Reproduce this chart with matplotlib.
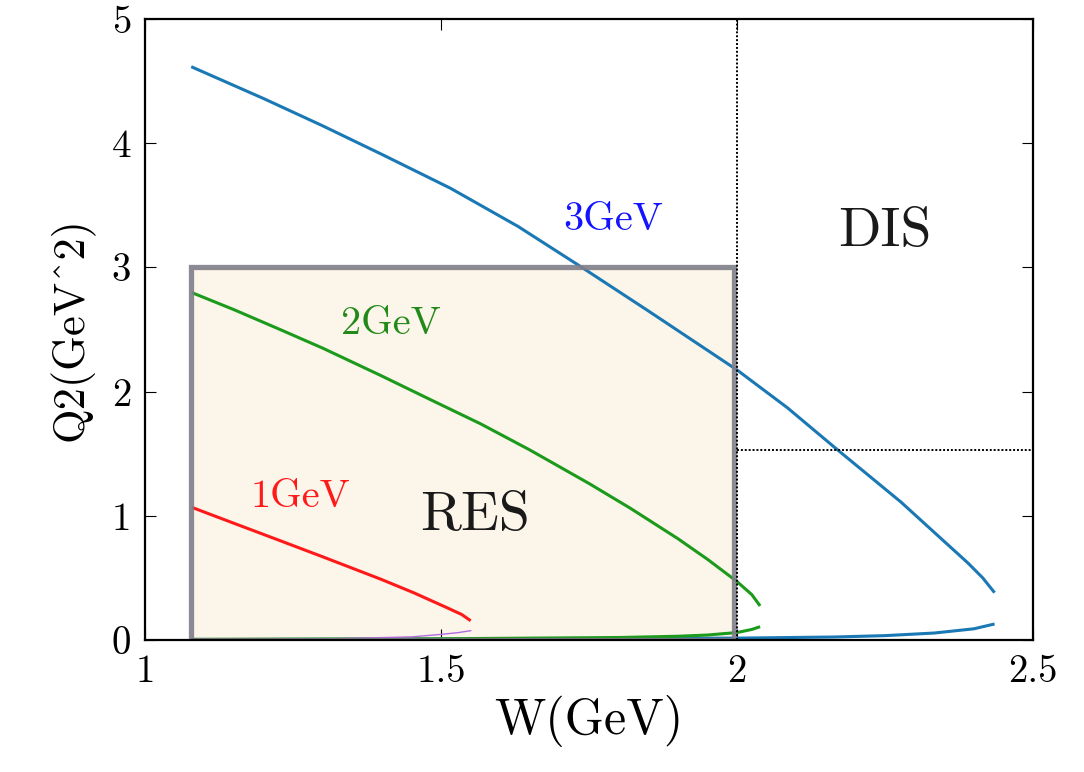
import matplotlib
matplotlib.use("Agg")
import matplotlib.pyplot as plt
from matplotlib.patches import Rectangle

plt.rcParams['font.family'] = ['cmr10', 'DejaVu Serif']
plt.rcParams['mathtext.fontset'] = 'cm'
plt.rcParams['axes.formatter.use_mathtext'] = True

# ---- data ----
W_3_up = [1.078, 1.2, 1.3, 1.4, 1.516, 1.63, 1.736, 1.85, 2.0, 2.085, 2.17, 2.277, 2.33, 2.39, 2.415, 2.435]
Q2_3_up = [4.616, 4.36, 4.14, 3.91, 3.637, 3.33, 3.006, 2.65, 2.174, 1.87, 1.53, 1.11, 0.88, 0.62, 0.50, 0.381]
W_3_lo = [1.079, 1.6, 2.0, 2.164, 2.25, 2.333, 2.40, 2.435]
Q2_3_lo = [0.003, 0.008, 0.015, 0.024, 0.035, 0.056, 0.09, 0.129]

W_2_up = [1.079, 1.15, 1.228, 1.3, 1.398, 1.48, 1.567, 1.65, 1.75, 1.82, 1.9, 1.95, 2.0, 2.025, 2.039]
Q2_2_up = [2.797, 2.66, 2.50, 2.35, 2.13, 1.94, 1.74, 1.53, 1.26, 1.06, 0.816, 0.65, 0.47, 0.365, 0.274]
W_2_lo = [1.079, 1.5, 1.8, 1.9, 1.95, 2.0, 2.025, 2.039]
Q2_2_lo = [0.005, 0.01, 0.02, 0.03, 0.04, 0.06, 0.085, 0.107]

W_1_up = [1.079, 1.15, 1.228, 1.3, 1.398, 1.454, 1.51, 1.535, 1.55]
Q2_1_up = [1.068, 0.94, 0.80, 0.67, 0.49, 0.38, 0.26, 0.205, 0.155]
W_1_lo = [1.079, 1.3, 1.45, 1.50, 1.53, 1.55]
Q2_1_lo = [0.0, 0.008, 0.025, 0.045, 0.06, 0.075]

res_W = [1.078, 1.995]
res_Q2 = [0.0, 3.0]
dis_W = 2.0
dis_Q2 = 1.53

x_ticks = [1, 1.5, 2, 2.5]
x_ticklabels = ["1", "1.5", "2", "2.5"]
y_ticks = [0, 1, 2, 3, 4, 5]
y_ticklabels = ["0", "1", "2", "3", "4", "5"]

fig = plt.figure(figsize=(10.84, 7.72), dpi=100)
ax = fig.add_axes([0.1338, 0.171, 0.8192, 0.8044])

# RES box fill
ax.add_patch(Rectangle((res_W[0], res_Q2[0]), res_W[1] - res_W[0], res_Q2[1] - res_Q2[0],
                       facecolor='#fcf5ea', edgecolor='none', zorder=1))

blue = '#1a78b4'
green = '#1c9a1c'
red = '#ff1a1a'
purple = '#b46ae0'
lw = 2.2
ax.plot(W_3_up, Q2_3_up, color=blue, lw=lw, zorder=3, solid_capstyle='butt')
ax.plot(W_3_lo, Q2_3_lo, color=blue, lw=lw, zorder=3, solid_capstyle='butt')
ax.plot(W_2_up, Q2_2_up, color=green, lw=lw, zorder=3, solid_capstyle='butt')
ax.plot(W_2_lo, Q2_2_lo, color=green, lw=lw, zorder=3, solid_capstyle='butt')
ax.plot(W_1_up, Q2_1_up, color=red, lw=lw, zorder=3, solid_capstyle='butt')
ax.plot(W_1_lo, Q2_1_lo, color=purple, lw=1.0, zorder=3)

# RES box edge
ax.add_patch(Rectangle((res_W[0], res_Q2[0]), res_W[1] - res_W[0], res_Q2[1] - res_Q2[0],
                       facecolor='none', edgecolor='#7f7e8a', lw=3.8, alpha=0.9, zorder=4,
                       joinstyle='miter'))

# DIS boundaries
ax.plot([dis_W, dis_W], [0, 5], color='black', ls=(0, (1, 1)), lw=1.4, zorder=5)
ax.plot([dis_W, 2.5], [dis_Q2, dis_Q2], color='black', ls=(0, (1, 1)), lw=1.4, zorder=5)

# labels
ax.text(1.79, 3.38, "3GeV", color='#1414ff', fontsize=29, ha='center', va='center')
ax.text(1.415, 2.54, "2GeV", color='#238a1a', fontsize=29, ha='center', va='center')
ax.text(1.262, 1.15, "1GeV", color='#ff1a1a', fontsize=29, ha='center', va='center')
ax.text(1.558, 1.0, "RES", color='#1a1a1a', fontsize=40, ha='center', va='center')
ax.text(2.249, 3.28, "DIS", color='#1a1a1a', fontsize=40, ha='center', va='center')

ax.set_xlim(1, 2.5)
ax.set_ylim(0, 5)
ax.set_xticks(x_ticks)
ax.set_xticklabels(x_ticklabels)
ax.set_yticks(y_ticks)
ax.set_yticklabels(y_ticklabels)
ax.tick_params(direction='in', length=8, width=0.8, top=True, right=True,
               labelsize=28, pad=10, colors='black')
for s in ax.spines.values():
    s.set_linewidth(1.6)
    s.set_zorder(6)

ax.set_xlabel("W(GeV)", fontsize=36, labelpad=4)
ax.set_ylabel("Q2(GeV^2)", fontsize=32, labelpad=12)

fig.savefig("out.png", dpi=100)
